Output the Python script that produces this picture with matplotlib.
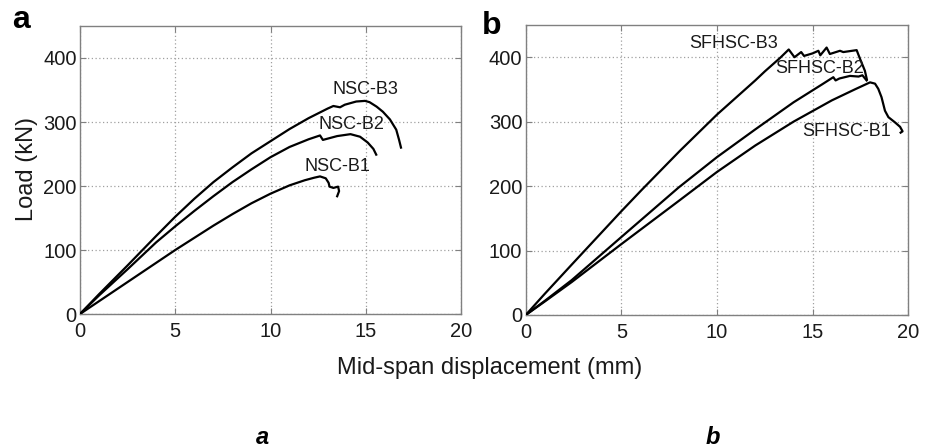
import matplotlib
matplotlib.use("Agg")
import matplotlib.pyplot as plt

plt.rcParams["font.family"] = ["Liberation Sans", "DejaVu Sans"]

# ---- load-displacement curves, normal-strength concrete beams (panel a) ----
nsc_b1_x = [0, 1, 2.5, 4, 5, 6, 7, 8, 9, 10, 11, 11.8, 12.3, 12.6, 12.9, 13.05, 13.1, 13.3,
            13.55, 13.6, 13.5]
nsc_b1_y = [0, 20, 50, 80, 100, 119, 138, 156, 173, 188, 201, 209, 213, 215, 212, 205, 199, 197,
            199, 192, 184]

nsc_b2_x = [0, 1, 2.5, 4, 5, 6, 7, 8, 9, 10, 11, 12, 12.6, 12.75, 13.0, 13.5, 14.2, 14.7, 15.1,
            15.4, 15.55]
nsc_b2_y = [0, 29, 70, 112, 137, 161, 184, 206, 226, 245, 261, 273, 279, 272, 274, 278, 281, 277,
            268, 258, 249]

nsc_b3_x = [0, 1, 2.5, 4, 5, 6, 7, 8, 9, 10, 11, 12, 13, 13.3, 13.65, 13.9, 14.5, 14.96, 15.2,
            15.57, 15.9, 16.27, 16.6, 16.75, 16.85]
nsc_b3_y = [0, 31, 76, 122, 152, 180, 206, 229, 251, 270, 289, 306, 321, 325, 323, 327, 332, 333,
            331, 324, 316, 304, 288, 272, 260]

# ---- steel-fibre high-strength concrete beams (panel b) ----
sfhsc_b1_x = [0, 1, 2.4, 5, 8, 10, 12, 14, 16, 17.2, 18.0, 18.26, 18.43, 18.6, 18.78, 18.96,
              19.3, 19.57, 19.7, 19.6]
sfhsc_b1_y = [0, 21, 51, 110, 177, 222, 263, 300, 333, 350, 361, 359, 351, 338, 317, 307,
              299, 292, 285, 283]

sfhsc_b2_x = [0, 1, 2.4, 5, 8, 10, 12, 14, 15.5, 16.08, 16.2, 16.4, 16.95, 17.4, 17.6, 17.82]
sfhsc_b2_y = [0, 22, 54, 121, 198, 245, 288, 330, 358, 369, 364, 367, 371, 370, 372, 364]

sfhsc_b3_x = [0, 1, 2.4, 5, 6.06, 8.07, 10, 12, 12.5, 13.3, 13.75, 14.05, 14.4, 14.55, 15.0,
              15.3, 15.4, 15.73, 15.9, 16.43, 16.6, 17.3, 17.47, 17.73, 17.83]
sfhsc_b3_y = [0, 33, 78, 161, 194, 255, 311, 364, 378, 399, 412, 400, 408, 402, 406,
              410, 403, 415, 405, 410, 408, 411, 398, 379, 366]

x_ticks = [0, 5, 10, 15, 20]
y_ticks = [0, 100, 200, 300, 400]

panels = [
    {
        "rect": [80 / 926, 134 / 448, 381 / 926, 288 / 448],
        "curves": [(nsc_b1_x, nsc_b1_y), (nsc_b2_x, nsc_b2_y), (nsc_b3_x, nsc_b3_y)],
        "labels": [("NSC-B3", 14.96, 350), ("NSC-B2", 14.26, 296), ("NSC-B1", 13.5, 230)],
    },
    {
        "rect": [525.7 / 926, 133 / 448, 382.6 / 926, 290 / 448],
        "curves": [(sfhsc_b1_x, sfhsc_b1_y), (sfhsc_b2_x, sfhsc_b2_y), (sfhsc_b3_x, sfhsc_b3_y)],
        "labels": [("SFHSC-B3", 10.89, 421), ("SFHSC-B2", 15.38, 382), ("SFHSC-B1", 16.78, 284)],
    },
]

W, H = 926, 448
fig = plt.figure(figsize=(W / 100, H / 100), dpi=100)
fig.patch.set_facecolor("white")

for p in panels:
    ax = fig.add_axes(p["rect"])
    for xs, ys in p["curves"]:
        ax.plot(xs, ys, color="black", lw=1.6, solid_joinstyle="round", zorder=3)
    for text, tx, ty in p["labels"]:
        ax.text(tx, ty, text, fontsize=13, ha="center", va="center", color="#1a1a1a", zorder=4)
    ax.set_xlim(0, 20)
    ax.set_ylim(0, 450)
    ax.set_xticks(x_ticks)
    ax.set_yticks(y_ticks)
    ax.grid(True, linestyle=(0, (1, 2)), color="#a0a0a0", lw=0.9)
    ax.set_axisbelow(True)
    for s in ax.spines.values():
        s.set_color("#808080")
        s.set_linewidth(1.0)
    ax.tick_params(axis="both", direction="in", length=4, width=0.8, color="#808080",
                   labelsize=14.5, labelcolor="#1a1a1a", top=True, right=True)
    ax.tick_params(axis="x", pad=5.5)
    ax.tick_params(axis="y", pad=2.5)

# panel letters
fig.text(12 / W, 1 - 28 / H, "a", fontsize=23, fontweight="bold", va="baseline", ha="left")
fig.text(482 / W, 1 - 34 / H, "b", fontsize=23, fontweight="bold", va="baseline", ha="left")

# shared axis titles
fig.text(27 / W, 1 - 169 / H, "Load (kN)", rotation=90, fontsize=17, ha="center", va="center",
         color="#1a1a1a")
fig.text(490 / W, 1 - 368 / H, "Mid-span displacement (mm)", fontsize=17, ha="center",
         va="center", color="#1a1a1a")

# captions under each panel
fig.text(262.5 / W, 1 - 444 / H, "a", fontsize=17, style="italic", fontweight="bold",
         ha="center", va="baseline")
fig.text(712.5 / W, 1 - 444 / H, "b", fontsize=17, style="italic", fontweight="bold",
         ha="center", va="baseline")

fig.savefig("out.png", dpi=100, facecolor="white")
